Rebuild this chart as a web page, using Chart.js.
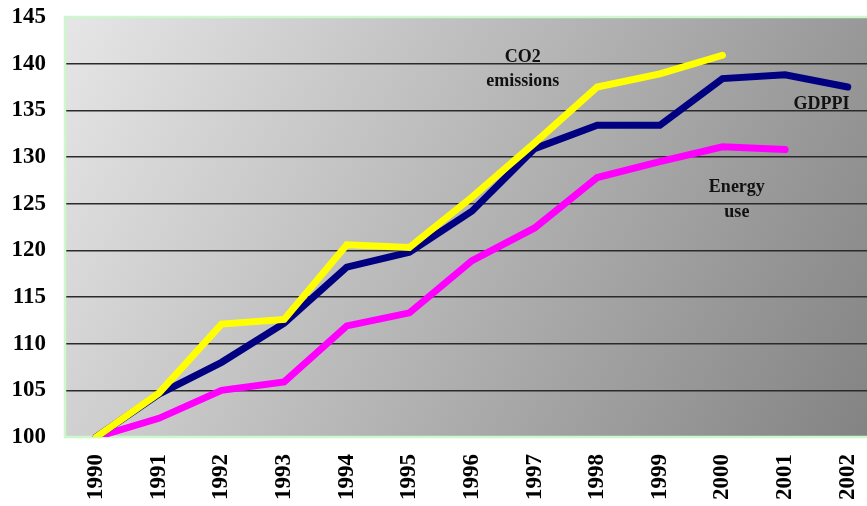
<!DOCTYPE html>
<html>
<head>
<meta charset="utf-8">
<script src="https://cdn.jsdelivr.net/npm/chart.js@4/dist/chart.umd.min.js"></script>
<style>
  html, body { margin: 0; padding: 0; background: #ffffff; overflow: hidden; }
  #wrap { width: 867px; height: 506px; overflow: hidden; }
  #c { display: block; }
</style>
</head>
<body>
<div id="wrap"><canvas id="c" width="879" height="506"></canvas></div>
<script>
// Index values, 1990 = 100
const years = ['1990','1991','1992','1993','1994','1995','1996','1997','1998','1999','2000','2001','2002'];
const gdppi = [100, 104.6, 108.0, 112.2, 118.2, 119.8, 124.2, 130.9, 133.4, 133.4, 138.4, 138.8, 137.5];
const co2 = [100, 104.7, 112.1, 112.6, 120.6, 120.3, 125.7, 131.5, 137.5, 138.9, 140.9, null, null];
const energyUse = [100, 102.0, 105.0, 105.9, 111.9, 113.3, 118.9, 122.4, 127.8, 129.5, 131.1, 130.8, null];
const yTicks = [100, 105, 110, 115, 120, 125, 130, 135, 140, 145];

// Series captions placed in data coordinates (category index, value)
const captions = [
  { lines: ['CO2', 'emissions'], at: 6.81, values: [140.7, 138.1] },
  { lines: ['GDPPI'], at: 11.58, values: [135.6] },
  { lines: ['Energy', 'use'], at: 10.23, values: [126.8, 124.1] }
];

const SERIF = '"Liberation Serif", "Times New Roman", serif';

const plotBackground = {
  id: 'plotBackground',
  beforeDraw(chart) {
    const { ctx, chartArea: a } = chart;
    const g = ctx.createLinearGradient(a.left, a.top, a.right, a.bottom);
    g.addColorStop(0, '#e6e6e6');
    g.addColorStop(1, '#828282');
    ctx.save();
    ctx.fillStyle = g;
    ctx.fillRect(a.left, a.top, a.right - a.left, a.bottom - a.top);
    ctx.restore();
  },
  beforeDatasetsDraw(chart) {
    const { ctx, chartArea: a } = chart;
    ctx.save();
    ctx.strokeStyle = '#ccf8cc';
    ctx.lineWidth = 2.5;
    ctx.strokeRect(a.left, a.top, a.right - a.left, a.bottom - a.top);
    ctx.restore();
  }
};

const seriesCaptions = {
  id: 'seriesCaptions',
  afterDatasetsDraw(chart) {
    const { ctx, scales: { x, y } } = chart;
    ctx.save();
    ctx.font = 'bold 18px ' + SERIF;
    ctx.fillStyle = '#111111';
    ctx.textAlign = 'center';
    ctx.textBaseline = 'middle';
    captions.forEach(c => {
      const px = x.getPixelForValue(c.at);
      c.lines.forEach((t, i) => ctx.fillText(t, px, y.getPixelForValue(c.values[i])));
    });
    ctx.restore();
  }
};

const lineStyle = {
  borderWidth: 7,
  pointRadius: 0,
  fill: false,
  tension: 0,
  borderCapStyle: 'round',
  borderJoinStyle: 'miter',
  spanGaps: false
};

new Chart(document.getElementById('c'), {
  type: 'line',
  data: {
    labels: years,
    datasets: [
      Object.assign({ label: 'CO2 emissions', data: co2, borderColor: '#ffff00', order: 0 }, lineStyle),
      Object.assign({ label: 'GDPPI', data: gdppi, borderColor: '#000080', order: 1 }, lineStyle),
      Object.assign({ label: 'Energy use', data: energyUse, borderColor: '#ff00ff', order: 2 }, lineStyle)
    ]
  },
  options: {
    responsive: false,
    animation: false,
    events: [],
    layout: { padding: { top: 17, right: 0, left: 0, bottom: 0 } },
    plugins: { legend: { display: false }, tooltip: { enabled: false } },
    scales: {
      x: {
        offset: true,
        grid: { display: false, drawTicks: false },
        border: { display: false },
        ticks: {
          color: '#000000',
          font: { family: SERIF, size: 23, weight: 'bold' },
          minRotation: 90,
          maxRotation: 90,
          padding: 17,
          autoSkip: false
        },
        afterFit(scale) { scale.height = 69; scale.paddingLeft = 0; scale.paddingRight = 0; }
      },
      y: {
        min: 100,
        max: 145,
        afterBuildTicks(scale) { scale.ticks = yTicks.map(v => ({ value: v })); },
        grid: {
          drawTicks: false,
          lineWidth: 1.5,
          color: ctx => (ctx.tick && (ctx.tick.value === 100 || ctx.tick.value === 145)) ? 'rgba(0,0,0,0)' : '#2a2a2a'
        },
        border: { display: false },
        ticks: {
          color: '#000000',
          font: { family: SERIF, size: 23, weight: 'bold' },
          padding: 19
        },
        afterFit(scale) { scale.width = 65; scale.paddingTop = 0; scale.paddingBottom = 0; }
      }
    }
  },
  plugins: [plotBackground, seriesCaptions]
});
</script>
</body>
</html>
